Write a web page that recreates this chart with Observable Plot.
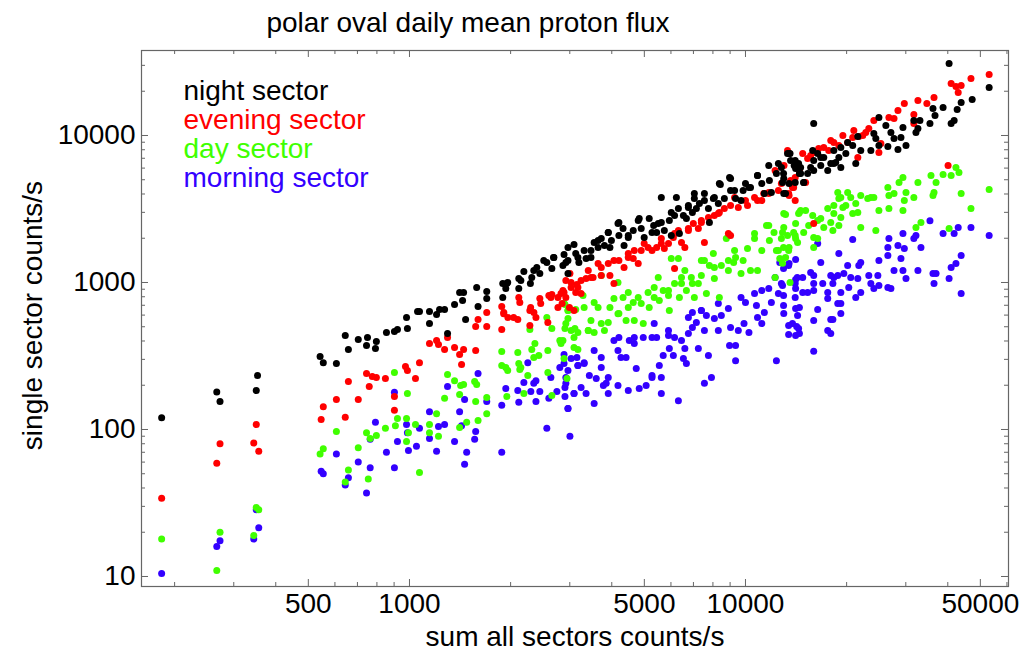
<!DOCTYPE html>
<html><head><meta charset="utf-8">
<script src="https://cdn.jsdelivr.net/npm/d3@7"></script>
<script src="https://cdn.jsdelivr.net/npm/@observablehq/plot@0.6"></script>
<style>body{margin:0;background:#fff}svg{display:block}</style>
</head><body><div id="chart"></div>
<script>
// ---- data: [sum all sectors counts/s, single sector counts/s]
const night = [[183,120],[267,180],[273,155],[353,233],[350,184],
[542,314],[554,285],[606,281],[644,436],[658,350],[704,409],[750,423],[745,373],[797,397],[792,356],[854,457],[902,464],[921,479],[980,578],[986,487],[1057,635],[1071,635],[1147,635],[1147,526],[1204,606],[1229,655],[1272,655],[1298,450],[1362,708],[1410,855],[1449,855],[1439,755],[1469,560],[1585,925],[1600,687],[1698,869],[1698,778],[1895,985],[1949,985],[1935,910],[2115,1065],[2115,910],[2190,1188],[2312,1081],[2290,985],[2393,1265],[2443,1151],[2563,1368],[2653,1245],[2685,1480],[2884,1550],[2920,1368],[3088,1815],[3125,1575],[2963,1151],
[2862,1306],[2963,1413],[3193,1368],[3354,1455],[3468,1652],[3545,1872],[3642,1730],[3722,1991],[3804,1786],[3905,2188],[3990,1931],[3950,1730],[4174,2518],[4200,2090],[4321,2328],[4351,1786],[4479,2024],[4634,2258],[4795,2642],[4894,2328],[4995,2024],[5170,2725],[5330,2443],[5440,2188],[5617,3786],[5617,2561],[5734,2258],[5934,2642],[6014,2994],[6228,3786],[6314,3186],[6358,2152],[6534,2856],[6670,2725],[6762,3344],[6950,2994],[7044,3725],[7142,3186],[7291,3447],[7547,4027],[7757,3186],[7810,2561],[8023,3725],[8302,3447],[8418,4642],[8652,3725],[8966,5180],[9028,4227],[9344,3725],[9839,4227],[10000,4713],[10350,4424],[10860,5350],[11180,4713],[11380,4027],[11780,4944],[11940,4092],[12360,5512],[12790,6054],[13000,5098],[13480,4713],[13570,7551],[13960,6251],[14060,6760],[14470,5512],
[8360,4713],[9028,5098],[10240,4424],[10860,5350],[11730,6251],[12530,6450],[13480,7551],[14590,6054],[14900,4790],[15960,5776],[16750,7080],[18320,6450],[19220,6054],[4200,2561],[4828,2725],[5500,2518],[6150,2856],[6762,3236],[7044,4027],[7547,3614],[8080,3786],[9280,4227],[9700,3614],[13000,4027],[14060,4790],[3905,2188],[3642,1931],[3310,1652],[3171,1480],[2963,1730],[2690,1480],[2510,1413],[2344,1207],[2145,1032],[1960,1000],[1895,790],[4479,2090],[5270,2188],[6014,2090],[3468,1480],
[15960,12070],[40360,30900],[53110,21220],[47280,17580],[43840,16760],[42660,15030],[41780,12650],[40930,12070],[38730,15500],[36650,13680],[36140,15270],[35400,12070],[33050,12650],[32600,11160],[31700,12650],[32160,10480],[30040,8550],[29420,11330],[29020,9690],[28430,8030],[27670,9540],[27090,10480],[26530,8420],[26170,11700],[24950,13260],[24950,8550],[24430,9540],[24100,10320],[23610,7910],[22030,7910],[21590,9840],[21290,6450],[20850,8550],[20140,8960],[19890,7550],[19220,8290],[18960,7080],[18320,7910],[17940,6450],[17570,5780],[17100,7080],[16750,6250],[16400,7550],[15960,6760],[15630,6060],[15310,5510],[14900,4790],[14390,6450],[14100,5970],[13620,6760],[13340,7550],[13160,4030],[12980,5510],[12890,4790],[14590,5510],[15850,7910],[18560,6550]];

const evening = [[183,34],[267,59],[273,80],[350,108],[344,81],[356,71],
[554,143],[546,117],[606,160],[644,121],[658,212],[704,160],[745,240],[759,196],[775,229],[797,226],[848,222],[902,168],[902,135],[973,268],[986,252],[1042,222],[1071,285],[1147,385],[1204,403],[1220,379],[1272,350],[1298,423],[1362,361],[1410,324],[1449,350],[1429,277],[1574,345],[1574,502],[1600,560],[1698,625],[1698,502],[1882,687],[1909,625],[1882,479],[1963,578],[2101,560],[2115,790],[2130,731],[2282,645],[2346,625],[2379,578],[2282,510],[2443,778],[2599,816],[2653,828],[2581,535],[2766,790],[2766,676],[2884,855],[2920,1032],[3003,1151],[3150,968],[3125,855],[2846,719],
[2862,883],[2920,790],[3027,1000],[3088,645],[2993,676],[3171,925],[3241,841],[3354,1065],[3405,1207],[3519,1081],[3642,1346],[3722,1117],[3905,1346],[3950,1117],[4060,985],[4200,1413],[4351,1265],[4479,1575],[4634,1455],[4795,1346],[4894,1652],[4995,1841],[5270,1652],[5440,1730],[5617,1991],[5734,1703],[5900,1841],[6100,2024],[6314,2258],[6450,1872],[6600,1730],[6762,2328],[6995,2518],[7240,2328],[7390,2561],[7547,1872],[7757,2769],[8080,2856],[8360,2994],[8652,3186],[9028,3344],[9028,2090],[9520,3236],[10000,3614],[10140,3344],[10640,3786],[11180,3614],[11330,4027],[11730,4092],[12530,4227],[12790,4713],[13480,3908],[13800,4424],[14060,5180],[14470,5776],[12250,5776],[13020,6251],[6150,1245],
[10860,3614],[11730,4027],[14060,3614],[15100,4790],[9280,3786],[8302,2950],[7390,2642],[6762,2258],[6150,2152],[5617,1841],[5130,1730],[4667,1652],[4479,1480],[4060,1413],[3722,1265],[3468,1081],[3241,1032],[3027,925],[2825,841],[2635,790],[2458,719],[2294,676],[2042,578],[1907,612],[8895,2152],
[53110,26000],[46890,24430],[40930,22590],[42300,21540],[43840,21880],[42960,19620],[36400,18140],[34660,16510],[32600,17300],[31700,13900],[29700,16510],[28430,14790],[27670,13050],[26720,13260],[24100,12650],[23280,11160],[22800,10480],[22340,10000],[21740,9840],[21010,10810],[20850,9690],[20140,8960],[19490,10000],[18960,8550],[18320,8960],[17940,9250],[17690,7910],[17100,8290],[16510,8160],[15960,7660],[15630,7310],[15310,6980],[14800,7550],[14100,6450],[13910,4430],[13620,4940],[13440,4030],[13340,7910],[21590,7080],[24950,7660],[25290,8830],[31700,12070],[40080,6250],[15960,2520]];

const day = [[183,18],[267,11],[273,20],[350,29.5],[356,28.5],[344,19],
[542,68],[554,74],[606,97],[658,53],[644,44],[704,75],[745,95],[764,87],[797,91],[754,46],[848,102],[902,244],[908,106],[921,119],[986,176],[980,119],[993,95],[980,83],[1042,108],[1071,51],[1147,108],[1147,95],[1204,128],[1220,90],[1272,163],[1298,237],[1362,215],[1420,199],[1410,173],[1449,202],[1410,103],[1480,112],[1563,212],[1585,202],[1574,155],[1600,115],[1698,165],[1698,128],[1882,339],[1882,272],[1935,264],[1949,168],[2101,334],[2115,281],[2130,256],[2250,233],[2190,176],[2282,479],[2362,385],[2312,350],[2426,319],[2581,244],[2563,578],[2653,487],[2653,170],[2802,403],[2902,708],[2963,645],[2963,569],[2902,487],[2943,222],[3107,487],[3125,655],[3171,350],[2884,304],
[2884,719],[2963,645],[2920,526],[3027,471],[2862,403],[3088,361],[3171,457],[3285,816],[3310,676],[3405,471],[3468,551],[3545,457],[3545,731],[3642,676],[3722,1117],[3804,471],[3905,535],[3950,676],[4060,778],[4200,615],[4174,1000],[4321,790],[4412,551],[4479,855],[4634,731],[4667,551],[4795,790],[4963,526],[5130,855],[5170,676],[5350,925],[5500,1081],[5540,755],[5690,883],[5900,816],[5934,645],[6014,1455],[6150,985],[6314,1455],[6358,790],[6450,1081],[6600,1207],[6670,883],[6950,985],[7044,790],[7240,985],[7390,1117],[7547,1413],[7650,841],[7810,1306],[8023,1575],[8080,1065],[8360,790],[8474,1306],[8770,1991],[8895,1207],[9220,1368],[9344,1480],[9700,1151],[9839,1413],[10140,1703],[10350,1207],[10640,1991],[10860,1207],[11180,1652],[11550,2443],[11780,1931],[12160,2188],[12360,1652],[12790,1991],[13000,2366],[13480,1730],[13570,1000],[14060,2090],[14470,2994],[12250,1081],[12650,1455],
[10640,2152],[11730,2443],[12530,1652],[13000,2950],[14590,3090],[16400,2642],[18320,2950],[19220,3786],[9280,1652],[8895,1413],[8080,1265],[7390,1413],[6900,1081],[6450,985],[5900,883],[5350,790],[4894,719],[4479,676],[4174,612],[3722,526],[3405,471],[3088,423],[2825,385],[2581,345],[2344,309],[2145,264],[1960,252],
[13160,2900],[12890,2190],[13340,2090],[12980,1730],[13440,1650],[13160,1480],[12890,1350],[14100,2520],[13910,2190],[14100,1990],[14290,1870],[14390,2950],[15100,3090],[14900,2190],[15420,2440],[15850,2860],[15960,2020],[15960,1730],[16400,1990],[16750,2720],[17100,2370],[17570,3190],[17940,2560],[18200,2260],[18320,3340],[18820,4100],[18960,3730],[19220,2770],[18960,2440],[19490,3240],[19890,3340],[20140,4100],[20570,3790],[20850,2950],[21290,3450],[21590,2990],[22030,3910],[22030,2370],[23110,3730],[23610,3790],[24100,3790],[24430,2260],[24950,3090],[26530,4430],[26720,3910],[26720,3190],[27670,4030],[28640,4790],[29420,5180],[29420,3090],[29700,3610],[30040,4100],[31700,3790],[32160,2370],[32600,4790],[33280,2560],[35650,5350],[36140,3910],[36400,4100],[36910,4790],[38730,5430],[40930,5350],[42300,6060],[43190,5600],[43840,4030],[46890,3190],[53110,4290],[40360,2330]];

const morning = [[183,10.5],[267,16],[273,17.5],[350,28.5],[356,21.5],[344,18],
[546,52],[554,50],[606,68],[644,42],[658,47],[704,60],[745,37],[764,55],[792,112],[764,86],[854,70],[902,179],[902,55],[921,83],[980,108],[986,95],[993,72],[1049,77],[1071,102],[1147,87],[1147,132],[1204,71],[1220,105],[1272,108],[1298,196],[1362,83],[1410,132],[1429,106],[1459,160],[1480,70],[1459,58],[1574,97],[1563,86],[1600,240],[1698,155],[1882,146],[1882,70],[1935,190],[2115,153],[2190,209],[2250,285],[2297,181],[2379,215],[2379,155],[2443,181],[2563,102],[2599,163],[2746,181],[2802,264],[2902,193],[2902,168],[2963,139],[3003,90],[2884,324],[2920,206],[3088,176],[3150,309],[3171,272],
[2884,281],[2920,226],[3027,304],[3088,176],[2963,139],[3171,272],[3241,193],[3310,285],[3354,176],[3430,233],[3545,345],[3596,222],[3722,264],[3776,199],[3905,176],[3905,226],[4060,403],[4200,423],[4174,199],[4260,309],[4412,309],[4479,184],[4510,403],[4667,423],[4730,260],[4828,190],[4963,423],[5062,199],[5270,233],[5350,526],[5440,423],[5540,272],[5617,226],[5617,176],[5690,319],[5900,436],[5934,356],[6100,319],[6150,423],[6314,157],[6450,403],[6534,304],[6600,356],[6670,281],[6762,450],[6950,494],[6950,625],[7142,535],[7240,356],[7390,645],[7547,471],[7650,597],[7757,319],[7920,226],[8080,569],[8302,471],[8474,597],[8895,665],[8966,373],[9028,494],[9344,373],[9344,294],[9520,471],[9900,526],[10000,731],[10240,457],[10640,841],[10780,698],[10860,578],[11180,526],[11380,625],[11730,910],[11940,731],[12360,294],[12530,841],[12790,985],[13000,615],[13800,526],[14060,790],[14260,1081],[14470,676],[14470,450],[12650,1368],[13480,1346],[3545,150],[3850,206],[5270,226],[7547,206],
[6762,578],[7390,645],[8302,719],[9700,790],[11180,883],[12250,1081],[14060,985],[15960,883],[18320,1081],[5900,471],[5270,423],[4667,385],[4174,345],[3722,309],[3310,281],[2963,252],[2635,226],[2344,206],[2101,184],
[12980,1245],[12890,953],[12980,816],[12980,698],[13440,1305],[14100,1433],[14100,1048],[14100,910],[14100,665],[14290,597],[13440,510],[13440,443],[14390,486],[14100,436],[14800,1081],[14800,855],[15310,855],[15630,1170],[15960,984],[15960,1116],[16400,655],[15960,551],[16400,1841],[16750,1368],[16980,984],[17570,855],[17570,778],[17570,471],[17940,450],[17940,1116],[18200,560],[18200,984],[18820,1116],[18960,1575],[18820,720],[19220,615],[19220,855],[19620,1151],[20140,1305],[20290,925],[20570,1081],[20850,1962],[21290,791],[21590,1065],[21740,1305],[22030,1368],[22030,855],[23280,1116],[23610,984],[24100,910],[24770,1116],[24950,1412],[24950,953],[26530,1730],[26530,1527],[26530,925],[27090,910],[27670,1207],[28430,1786],[29020,1456],[29420,1207],[29420,2155],[29700,1703],[30040,1065],[31700,1991],[32160,2088],[32600,1207],[33280,1730],[35400,2630],[36140,1151],[36400,984],[36910,1151],[38730,2155],[40360,1065],[40930,1265],[42300,1346],[41780,2155],[42960,2366],[43840,1527],[43840,842],[46890,2366],[53110,2088],[15960,340],[17940,560],[14200,502],[19220,720],[26720,1991]];

const seriesNames = ["night sector","evening sector","day sector","morning sector"];
const seriesColors = ["#000000","#ff0000","#40ff00","#3300ff"];
const xMajor = [500,1000,5000,10000,50000];
const xMinor = [200,300,400,600,700,800,900,2000,3000,4000,6000,7000,8000,9000,20000,30000,40000,60000];
const yMajor = [10,100,1000,10000];
const yMinor = [20,30,40,50,60,70,80,90,200,300,400,500,600,700,800,900,2000,3000,4000,5000,6000,7000,8000,9000,20000,30000];
const titleText = "polar oval daily mean proton flux";
const xTitle = "sum all sectors counts/s";
const yTitle = "single sector counts/s";

// ---- layout
const W = 1024, H = 664, mL = 141, mR = 16, mT = 50, mB = 78;
const pH = H - mT - mB, pW = W - mL - mR;
const FS = 28, gray = "#666";
const legendDy = [41, 70, 99, 128];

const rows = (arr, s) => arr.map(([x, y]) => ({x, y, s}));
const data = [
  ...rows(morning, seriesNames[3]),
  ...rows(day, seriesNames[2]),
  ...rows(evening, seriesNames[1]),
  ...rows(night, seriesNames[0])
];

const tk = (vals, len, side) => {
  if (side === "bottom") return Plot.tickX(vals, {x: d => d, insetTop: pH - len, stroke: gray});
  if (side === "top") return Plot.tickX(vals, {x: d => d, insetBottom: pH - len, stroke: gray});
  if (side === "left") return Plot.tickY(vals, {y: d => d, insetRight: pW - len, stroke: gray});
  return Plot.tickY(vals, {y: d => d, insetLeft: pW - len, stroke: gray});
};
const txt = {fontSize: FS, fill: "#000", lineAnchor: "middle"};

const chart = Plot.plot({
  width: W, height: H,
  marginLeft: mL, marginRight: mR, marginTop: mT, marginBottom: mB,
  style: {fontFamily: "'Liberation Sans', Arial, sans-serif", background: "#fff", overflow: "visible"},
  x: {type: "log", domain: [159.4, 60640], axis: null},
  y: {type: "log", domain: [8.55, 37860], axis: null},
  color: {domain: seriesNames, range: seriesColors},
  marks: [
    Plot.dot(data, {x: "x", y: "y", r: 3.5, fill: "s", stroke: null}),
    Plot.frame({stroke: gray, strokeWidth: 1.2}),
    tk(xMajor, 7, "bottom"), tk(xMinor, 4, "bottom"),
    tk(xMajor, 7, "top"), tk(xMinor, 4, "top"),
    tk(yMajor, 7, "left"), tk(yMinor, 4, "left"),
    tk(yMajor, 7, "right"), tk(yMinor, 4, "right"),
    Plot.text(xMajor, {...txt, x: d => d, text: d => String(d), frameAnchor: "bottom", dy: 18, textAnchor: "middle"}),
    Plot.text(yMajor, {...txt, y: d => d, text: d => String(d), frameAnchor: "left", dx: -6, textAnchor: "end"}),
    Plot.text([xTitle], {...txt, text: d => d, frameAnchor: "bottom", dy: 51, textAnchor: "middle"}),
    Plot.text([yTitle], {...txt, text: d => d, frameAnchor: "left", dx: -108, dy: -3, rotate: -90, textAnchor: "middle"}),
    Plot.text([titleText], {...txt, text: d => d, frameAnchor: "top", dx: -107, dy: -27, textAnchor: "middle"}),
    ...seriesNames.map((name, i) => Plot.text([name], {...txt, text: d => d, frameAnchor: "top-left", dx: 42, dy: legendDy[i], textAnchor: "start", fill: seriesColors[i]}))
  ]
});
document.getElementById("chart").appendChild(chart);
</script>
</body></html>
